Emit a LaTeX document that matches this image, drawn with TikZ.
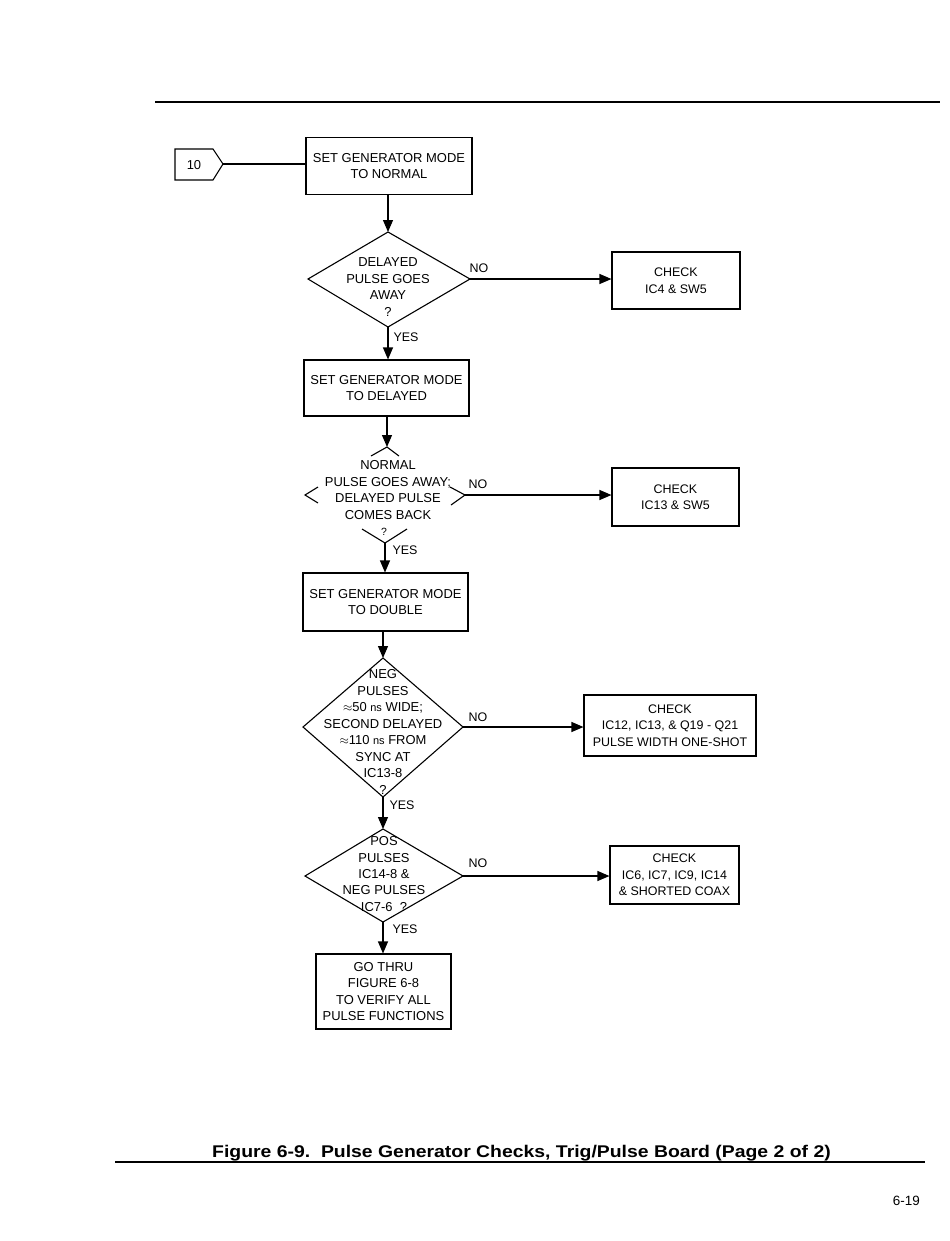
\documentclass[tikz,border=0pt]{standalone}
\usepackage{fontspec}
\setmainfont{Liberation Sans}
\usetikzlibrary{arrows.meta,calc}
\newcommand{\nsunit}{{\fontsize{11}{12}\selectfont ns}}
\begin{document}
\begin{tikzpicture}[x=1bp,y=-1bp,
  every node/.style={font=\fontsize{13}{16.5}\selectfont},
  proc/.style={draw,line width=1.1bp,inner sep=0pt,align=center},
  chk/.style={proc,font=\fontsize{12.5}{16.5}\selectfont},
  txt/.style={inner sep=0pt,align=center},
  edge/.style={line width=1.1bp},
  arr/.style={line width=1.1bp,-{Triangle[length=12bp,width=10bp]}},
  lbl/.style={inner sep=0pt,font=\fontsize{12.5}{14}\selectfont}]
\useasboundingbox (0,0) rectangle (950,1241);
% rules
\draw[line width=1.3bp] (155,102) -- (940,102);
\draw[line width=1.3bp] (115,1162) -- (925,1162);
% entry pentagon
\coordinate (pA) at (175,149);
\coordinate (pB) at (213,149);
\coordinate (ptip) at (223,164);
\coordinate (pD) at (213,180);
\coordinate (pE) at (175,180);
\draw[edge] (pA) -- (pB) -- (ptip) -- (pD) -- (pE) -- cycle;
\node[txt] (p10) at (194,165) {10};
% boxes
\node[proc,minimum width=166bp,minimum height=57bp] (b1) at (389,166) {SET GENERATOR MODE\\TO NORMAL};
\node[chk,minimum width=128bp,minimum height=57bp] (c1) at (676,280.5) {CHECK\\IC4 \& SW5};
\node[proc,minimum width=165bp,minimum height=56bp] (b2) at (386.5,388) {SET GENERATOR MODE\\TO DELAYED};
\node[chk,minimum width=127bp,minimum height=58bp] (c2) at (675.5,497) {CHECK\\IC13 \& SW5};
\node[proc,minimum width=165bp,minimum height=58bp] (b3) at (385.5,602) {SET GENERATOR MODE\\TO DOUBLE};
\node[chk,minimum width=172bp,minimum height=61bp] (c3) at (670,725.5) {CHECK\\IC12, IC13, \& Q19 - Q21\\PULSE WIDTH ONE-SHOT};
\node[chk,minimum width=129bp,minimum height=58bp] (c4) at (674.5,875) {CHECK\\IC6, IC7, IC9, IC14\\\& SHORTED COAX};
\node[proc,minimum width=135bp,minimum height=75bp] (b5) at (383.5,991.5) {GO THRU\\FIGURE 6-8\\TO VERIFY ALL\\PULSE FUNCTIONS};
% diamond 1
\coordinate (d1t) at (388,232);
\coordinate (d1l) at (308,279);
\coordinate (d1r) at (470,279);
\coordinate (d1b) at (388,327);
\draw[edge] (d1t) -- (d1r) -- (d1b) -- (d1l) -- cycle;
\node[txt] (d1) at (388,287) {DELAYED\\PULSE GOES\\AWAY\\?};
% diamond 2 (corners only)
\coordinate (d2t) at (387,447);
\coordinate (d2l) at (305,495);
\coordinate (d2r) at (465,495);
\coordinate (d2b) at (385,543);
\draw[edge] (371,456) -- (d2t) -- (399,456);
\draw[edge] (318,487) -- (d2l) -- (318,503);
\draw[edge] (450,487) -- (d2r) -- (451,505);
\draw[edge] (362,529) -- (d2b) -- (407,529);
\node[txt] (d2) at (388,490) {NORMAL\\PULSE GOES AWAY;\\DELAYED PULSE\\COMES BACK};
\node[txt,font=\fontsize{10.5}{12}\selectfont] (d2q) at (384,532) {?};
% diamond 3
\coordinate (d3t) at (383,658);
\coordinate (d3l) at (303,727);
\coordinate (d3r) at (463,727);
\coordinate (d3b) at (383,797);
\draw[edge] (d3t) -- (d3r) -- (d3b) -- (d3l) -- cycle;
\node[txt,font=\fontsize{13}{16.6}\selectfont] (d3) at (383,732) {NEG\\PULSES\\$\approx$50 \nsunit{} WIDE;\\SECOND DELAYED\\$\approx$110 \nsunit{} FROM\\SYNC AT\\IC13-8\\?};
% diamond 4
\coordinate (d4t) at (383,829);
\coordinate (d4l) at (305,876);
\coordinate (d4r) at (463,876);
\coordinate (d4b) at (383,922);
\draw[edge] (d4t) -- (d4r) -- (d4b) -- (d4l) -- cycle;
\node[txt] (d4) at (384,874) {POS\\PULSES\\IC14-8 \&\\NEG PULSES\\IC7-6 \ ?};
% connectors
\draw[edge] (ptip) -- (ptip -| b1.west);
\draw[arr] (b1.south -| d1t) -- (d1t);
\draw[arr] (d1r) -- (d1r -| c1.west);
\draw[arr] (d1b) -- (d1b |- b2.north);
\draw[arr] (b2.south -| d2t) -- (d2t);
\draw[arr] (d2r) -- (d2r -| c2.west);
\draw[arr] (d2b) -- (d2b |- b3.north);
\draw[arr] (b3.south -| d3t) -- (d3t);
\draw[arr] (d3r) -- (d3r -| c3.west);
\draw[arr] (d3b) -- (d4t);
\draw[arr] (d4r) -- (d4r -| c4.west);
\draw[arr] (d4b) -- (d4b |- b5.north);
% labels
\node[lbl] (n1) at (479,268) {NO};
\node[lbl] (y1) at (406,337) {YES};
\node[lbl] (n2) at (478,484) {NO};
\node[lbl] (y2) at (405,550) {YES};
\node[lbl] (n3) at (478,717) {NO};
\node[lbl] (y3) at (402,805) {YES};
\node[lbl] (n4) at (478,863) {NO};
\node[lbl] (y4) at (405,929) {YES};
% caption
\node[anchor=base west,inner sep=0pt,font=\fontsize{17}{19}\bfseries\selectfont] (cap) at (212,1157)
  {\scalebox{1.145}[1]{Figure 6-9.\ \ Pulse Generator Checks, Trig/Pulse Board (Page 2 of 2)}};
\node[anchor=base east,inner sep=0pt,font=\fontsize{13.5}{16}\selectfont] (pg) at (920,1205) {6-19};
\end{tikzpicture}
\end{document}
